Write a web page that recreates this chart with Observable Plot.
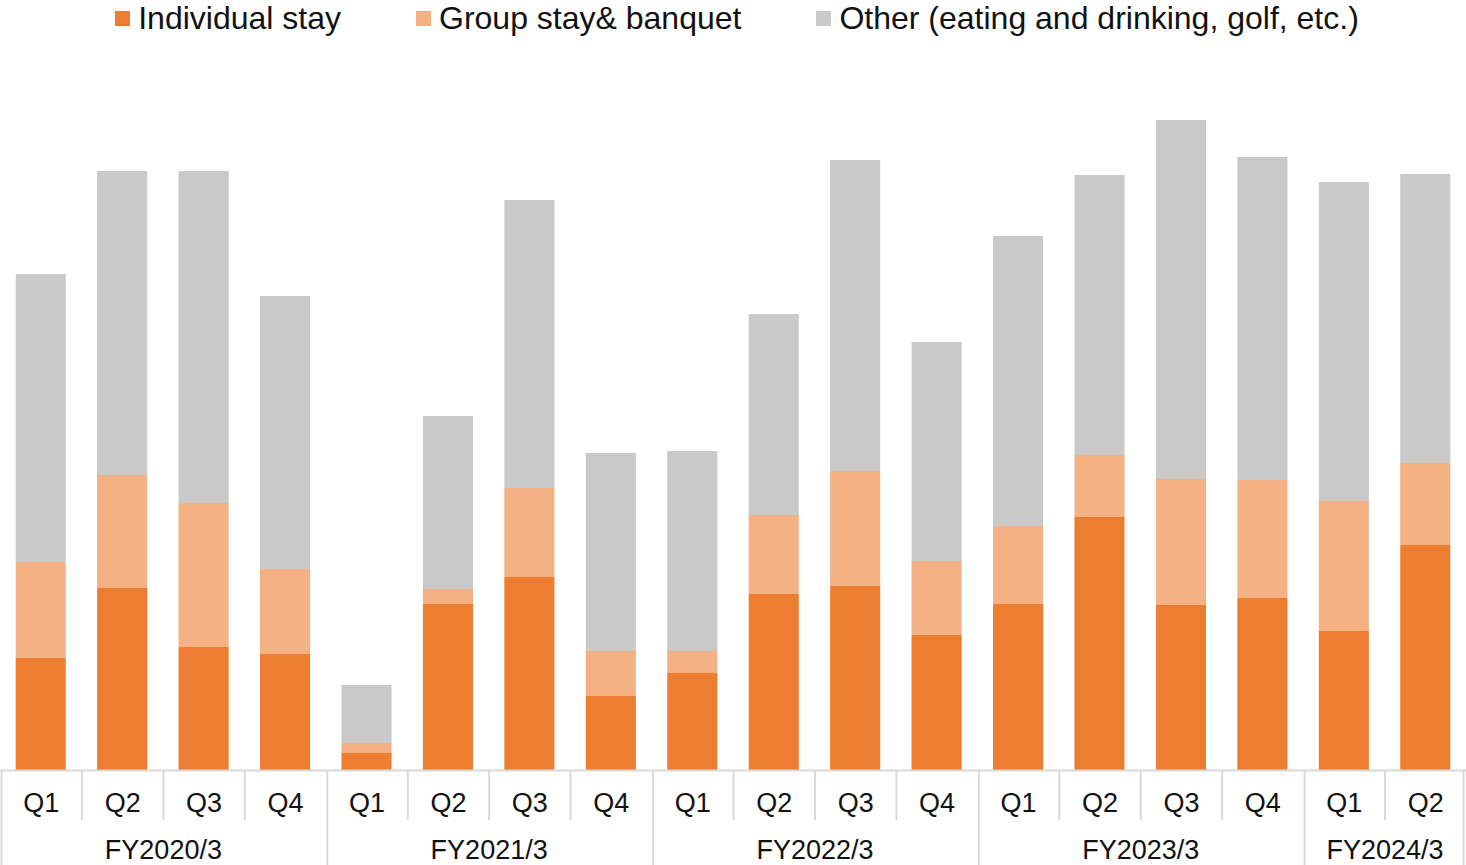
<!DOCTYPE html>
<html>
<head>
<meta charset="utf-8">
<script src="https://cdn.jsdelivr.net/npm/d3@7"></script>
<script src="https://cdn.jsdelivr.net/npm/@observablehq/plot@0.6"></script>
<style>
  html, body { margin: 0; padding: 0; background: #fff; }
  body { width: 1466px; height: 865px; overflow: hidden; font-family: "Liberation Sans", Arial, sans-serif; }
  #legend { height: 45px; display: flex; justify-content: center; align-items: flex-start; gap: 75px; padding-left: 8px; box-sizing: border-box; }
  .item { display: flex; align-items: center; height: 36px; font-size: 32px; color: #111; }
  .sw { width: 15px; height: 15px; margin-right: 8px; }
  #chart svg { display: block; }
</style>
</head>
<body>
<div id="legend"></div>
<div id="chart"></div>
<script>
const quarters = ["Q1","Q2","Q3","Q4","Q1","Q2","Q3","Q4","Q1","Q2","Q3","Q4","Q1","Q2","Q3","Q4","Q1","Q2"];
const fiscalYears = ["FY2020/3","FY2020/3","FY2020/3","FY2020/3","FY2021/3","FY2021/3","FY2021/3","FY2021/3","FY2022/3","FY2022/3","FY2022/3","FY2022/3","FY2023/3","FY2023/3","FY2023/3","FY2023/3","FY2024/3","FY2024/3"];
const years = ["FY2020/3","FY2021/3","FY2022/3","FY2023/3","FY2024/3"];
const seriesNames = ["Individual stay","Group stay& banquet","Other (eating and drinking, golf, etc.)"];
const seriesColors = ["#ED7D31","#F4B183","#C9C9C9"];
const individualStay   = [112,182,123,116,17,166,193,74,97,176,184,135,166,253,165,172,139,225];
const groupStayBanquet = [96,113,144,85,10,15,89,45,22,79,115,74,78,62,126,118,130,82];
const otherRevenue     = [288,304,332,273,58,173,288,198,200,201,311,219,290,280,359,323,319,289];

const seriesValues = [individualStay, groupStayBanquet, otherRevenue];
const keys = quarters.map((q, i) => fiscalYears[i] + " " + q);

const rows = [];
keys.forEach((k, i) => {
  seriesNames.forEach((s, j) => rows.push({key: k, series: s, value: seriesValues[j][i]}));
});

const W = 1466, H = 820;
const step = W / keys.length;
const gridColor = "#d9d9d9";

const quarterRows = keys.map((k, i) => ({key: k, q: quarters[i], first: i === 0 || fiscalYears[i] !== fiscalYears[i - 1]}));
const yearRows = years.map(y => {
  const ks = keys.filter((k, i) => fiscalYears[i] === y);
  return {year: y, anchor: ks[ks.length / 2 - 1]};
});

// legend
const legend = document.getElementById("legend");
seriesNames.forEach((s, j) => {
  const it = document.createElement("div");
  it.className = "item";
  it.innerHTML = `<span class="sw" style="background:${seriesColors[j]}"></span><span>${s}</span>`;
  legend.appendChild(it);
});

const chart = Plot.plot({
  width: W,
  height: H,
  marginTop: 5,
  marginBottom: 95,
  marginLeft: 0,
  marginRight: 0,
  style: {fontFamily: "'Liberation Sans', Arial, sans-serif", background: "#fff"},
  x: {type: "band", domain: keys, paddingInner: 0.385, paddingOuter: 0.1925, round: false, axis: null},
  y: {domain: [0, 720], axis: null},
  color: {domain: seriesNames, range: seriesColors},
  marks: [
    Plot.barY(rows, {x: "key", y: "value", fill: "series", order: seriesNames}),
    Plot.ruleY([0], {stroke: gridColor, strokeWidth: 2}),
    Plot.ruleX(quarterRows.filter(d => !d.first), {x: "key", y1: () => 0, y2: () => -50, dx: -step / 2, stroke: gridColor, strokeWidth: 2}),
    Plot.ruleX(quarterRows.filter(d => d.first), {x: "key", y1: () => 0, y2: () => -95, dx: -step / 2 + 1, stroke: gridColor, strokeWidth: 2}),
    Plot.ruleX([keys[keys.length - 1]], {x: d => d, y1: () => 0, y2: () => -95, dx: step / 2 - 3, stroke: gridColor, strokeWidth: 2}),
    Plot.text(quarterRows, {x: "key", text: "q", frameAnchor: "bottom", dy: 33, lineAnchor: "middle", fontSize: 27, fill: "#111"}),
    Plot.text(yearRows, {x: "anchor", text: "year", frameAnchor: "bottom", dy: 80, dx: step / 2, lineAnchor: "middle", fontSize: 27, fill: "#111"})
  ]
});
document.getElementById("chart").appendChild(chart);
</script>
</body>
</html>
